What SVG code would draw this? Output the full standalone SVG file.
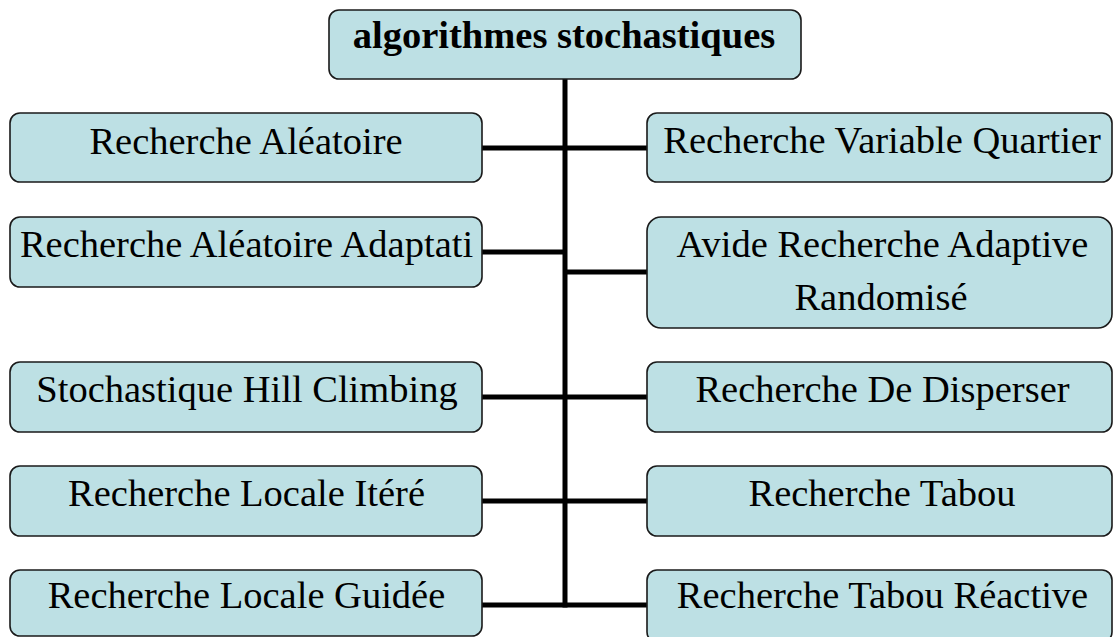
<svg xmlns="http://www.w3.org/2000/svg" width="1113" height="637" viewBox="0 0 1113 637">
  <style>
    .box { fill: #bde0e4; stroke: #1a1a1a; stroke-width: 1.6; }
    .lbl { font-family: "Liberation Serif", "Times New Roman", Times, serif; font-size: 38.5px; fill: #000; text-anchor: middle; }
    .title { font-weight: bold; }
    .wire { stroke: #000; stroke-width: 5; fill: none; }
  </style>
  <rect width="1113" height="637" fill="#fff"/>

  <!-- connectors: trunk and branches -->
  <g id="connectors">
    <line class="wire" x1="565" y1="79" x2="565" y2="607.5"/>
    <line class="wire" x1="482" y1="148" x2="647" y2="148"/>
    <line class="wire" x1="482" y1="252" x2="565" y2="252"/>
    <line class="wire" x1="565" y1="272" x2="647" y2="272"/>
    <line class="wire" x1="482" y1="397" x2="647" y2="397"/>
    <line class="wire" x1="482" y1="501" x2="647" y2="501"/>
    <line class="wire" x1="482" y1="605" x2="647" y2="605"/>
  </g>

  <g id="root">
    <rect class="box" x="329" y="10" width="472" height="69" rx="10"/>
    <text class="lbl title" x="564" y="48">algorithmes stochastiques</text>
  </g>

  <!-- left column -->
  <g id="recherche-aleatoire">
    <rect class="box" x="10" y="113" width="472" height="69" rx="10"/>
    <text class="lbl" x="246" y="154">Recherche Aléatoire</text>
  </g>
  <g id="recherche-aleatoire-adaptative">
    <rect class="box" x="10" y="217" width="472" height="70" rx="10"/>
    <text class="lbl" x="246.5" y="257">Recherche Aléatoire Adaptati</text>
  </g>
  <g id="hill-climbing">
    <rect class="box" x="10" y="362" width="472" height="70" rx="10"/>
    <text class="lbl" x="247" y="402">Stochastique Hill Climbing</text>
  </g>
  <g id="locale-iteree">
    <rect class="box" x="10" y="466" width="472" height="70" rx="10"/>
    <text class="lbl" x="246.5" y="506">Recherche Locale Itéré</text>
  </g>
  <g id="locale-guidee">
    <rect class="box" x="10" y="570" width="472" height="66" rx="10"/>
    <text class="lbl" x="246.5" y="608">Recherche Locale Guidée</text>
  </g>

  <!-- right column -->
  <g id="variable-quartier">
    <rect class="box" x="647" y="113" width="465" height="69" rx="10"/>
    <text class="lbl" x="882" y="153">Recherche Variable Quartier</text>
  </g>
  <g id="grasp">
    <rect class="box" x="647" y="217" width="465" height="111" rx="14"/>
    <text class="lbl" x="882.5" y="257">Avide Recherche Adaptive</text>
    <text class="lbl" x="881" y="310">Randomisé</text>
  </g>
  <g id="disperser">
    <rect class="box" x="647" y="362" width="465" height="70" rx="10"/>
    <text class="lbl" x="882.5" y="402">Recherche De Disperser</text>
  </g>
  <g id="tabou">
    <rect class="box" x="647" y="466" width="465" height="70" rx="10"/>
    <text class="lbl" x="882" y="506">Recherche Tabou</text>
  </g>
  <g id="tabou-reactive">
    <rect class="box" x="647" y="570" width="465" height="72" rx="10"/>
    <text class="lbl" x="882.5" y="608">Recherche Tabou Réactive</text>
  </g>
</svg>
